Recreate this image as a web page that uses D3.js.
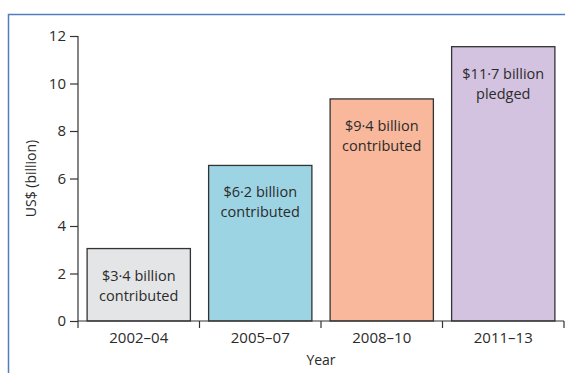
<!DOCTYPE html>
<html>
<head>
<meta charset="utf-8">
<script src="https://cdn.jsdelivr.net/npm/d3@7"></script>
<style>
  body { margin: 0; background: #fff; }
  text { font-family: "Open Sans", sans-serif; fill: #2b2b2b; }
</style>
</head>
<body>
<div id="chart"></div>
<script>
// data
var periods = ["2002–04", "2005–07", "2008–10", "2011–13"];
var values = [3.05, 6.55, 9.35, 11.55];
var labels = [
  ["$3·4 billion", "contributed"],
  ["$6·2 billion", "contributed"],
  ["$9·4 billion", "contributed"],
  ["$11·7 billion", "pledged"]
];
var colors = ["#e4e5e7", "#9dd4e4", "#f9b89c", "#d3c3e0"];
var yTicks = [0, 2, 4, 6, 8, 10, 12];

var W = 565, H = 373;
var margin = {top: 36, right: 1, bottom: 52, left: 78},
    width = W - margin.left - margin.right,
    height = H - margin.top - margin.bottom;

var root = d3.select("#chart")
  .append("svg")
    .attr("width", W)
    .attr("height", H);

// blue frame (top + left only)
root.append("path")
  .attr("d", "M8.5," + H + "V14.5H" + W)
  .attr("fill", "none")
  .attr("stroke", "#4f7fbd")
  .attr("stroke-width", 1.5);

var svg = root.append("g")
  .attr("transform", "translate(" + margin.left + "," + margin.top + ")");

var x = d3.scaleBand()
  .domain(periods)
  .range([0, width])
  .paddingInner(0.15)
  .paddingOuter(0.075);

var y = d3.scaleLinear()
  .domain([0, 12])
  .range([height, 0]);

// bars
var bars = svg.selectAll("g.bar")
  .data(periods)
  .enter()
  .append("g")
    .attr("class", "bar");

bars.append("rect")
  .attr("x", function(d) { return x(d); })
  .attr("y", function(d, i) { return y(values[i]); })
  .attr("width", x.bandwidth())
  .attr("height", function(d, i) { return height - y(values[i]); })
  .attr("fill", function(d, i) { return colors[i]; })
  .attr("stroke", "#333")
  .attr("stroke-width", 1.3);

bars.each(function(d, i) {
  var t = d3.select(this).append("text")
    .attr("text-anchor", "middle")
    .style("font-size", "14.5px");
  labels[i].forEach(function(line, k) {
    t.append("tspan")
      .attr("x", x(d) + x.bandwidth() / 2)
      .attr("y", y(values[i]) + 32 + k * 20)
      .text(line);
  });
});

// y axis
var yAxis = svg.append("g")
  .call(d3.axisLeft(y).tickValues(yTicks).tickSize(8).tickPadding(4));
yAxis.select(".domain").remove();
yAxis.selectAll("line").attr("stroke", "#333").attr("stroke-width", 1.2);
yAxis.selectAll("text").style("font-size", "15px");
svg.append("line")
  .attr("x1", 0).attr("x2", 0)
  .attr("y1", y(12)).attr("y2", height + 7)
  .attr("stroke", "#333").attr("stroke-width", 1.2);

// x axis: labels centred, ticks at band edges
var xAxis = svg.append("g")
  .attr("transform", "translate(0," + height + ")")
  .call(d3.axisBottom(x).tickSize(0).tickPadding(11));
xAxis.select(".domain").remove();
xAxis.selectAll("text").style("font-size", "15px");

svg.append("line")
  .attr("x1", 0).attr("x2", width)
  .attr("y1", height).attr("y2", height)
  .attr("stroke", "#333").attr("stroke-width", 1.2);

var step = x.step();
var edges = periods.map(function(d) { return x(d) + x.bandwidth() + step * x.paddingInner() / 2; });
svg.selectAll("line.xtick")
  .data(edges)
  .enter()
  .append("line")
    .attr("class", "xtick")
    .attr("x1", function(d) { return d; })
    .attr("x2", function(d) { return d; })
    .attr("y1", height)
    .attr("y2", height + 7)
    .attr("stroke", "#333")
    .attr("stroke-width", 1.2);

// axis titles
svg.append("text")
  .attr("x", width / 2)
  .attr("y", height + 44)
  .attr("text-anchor", "middle")
  .style("font-size", "14px")
  .text("Year");

svg.append("text")
  .attr("transform", "translate(-42," + (height / 2) + ") rotate(-90)")
  .attr("text-anchor", "middle")
  .style("font-size", "14px")
  .text("US$ (billion)");
</script>
</body>
</html>
